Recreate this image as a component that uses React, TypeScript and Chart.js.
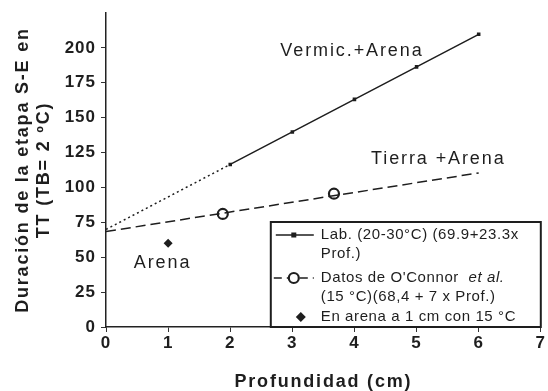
import React, { useEffect, useRef } from "react";
import { Chart, registerables } from "chart.js";

Chart.register(...registerables);

// ---------- data ----------
const xTickValues = [0, 1, 2, 3, 4, 5, 6, 7];
const yTickValues = [0, 25, 50, 75, 100, 125, 150, 175, 200];
const xAxisMax = 7;
const yAxisMax = 225;

const labDepths = [2, 3, 4, 5, 6];
const labValues = [116.5, 139.8, 163.1, 186.4, 209.7];
const labExtrapDepths = [0, 2];
const labExtrapValues = [69.9, 116.5];

const oconnorDepths = [1.88, 3.67];
const oconnorValues = [81, 95.5];
const oconnorLineDepths = [0, 6];
const oconnorLineValues = [68.4, 110.4];

const arenaDepths = [1];
const arenaValues = [60];

const curveLabels = ["Vermic.+Arena", "Tierra +Arena", "Arena"];
const curveLabelDepths = [3.96, 5.35, 0.91];
const curveLabelValues = [198, 120.5, 46];

const legendLabels = [
  ["Lab. (20-30°C) (69.9+23.3x", "Prof.)"],
  ["Datos de O'Connor  et al.", "(15 °C)(68,4 + 7 x Prof.)"],
  ["En arena a 1 cm con 15 °C"],
];

const xTitle = "Profundidad (cm)";
const yTitle = ["Duración de la etapa S-E en", "TT (TB= 2 ºC)"];

// ---------- styles ----------
const FONT = "'Liberation Sans', Arial, Helvetica, sans-serif";
const INK = "#1e1e1e";

const toPts = (xs: number[], ys: number[]) => xs.map((x, i) => ({ x, y: ys[i] }));

const spacingPlugin = {
  id: "spacing",
  beforeLayout(chart: any) {
    chart.ctx.letterSpacing = "1px";
  },
  afterLayout(chart: any) {
    Object.values(chart.scales).forEach((s: any) => {
      if (s.__wrapped) return;
      const orig = s.drawTitle.bind(s);
      s.drawTitle = function () {
        const c = this.ctx;
        const prev = c.letterSpacing;
        c.letterSpacing = "1.8px";
        orig();
        c.letterSpacing = prev;
      };
      s.__wrapped = true;
    });
  },
  beforeDraw(chart: any) {
    const ctx = chart.ctx;
    ctx.save();
    ctx.fillStyle = "#ffffff";
    ctx.fillRect(0, 0, chart.width, chart.height);
    ctx.restore();
    ctx.letterSpacing = "1px";
  },
};

const annotationPlugin = {
  id: "annotations",
  afterDatasetsDraw(chart: any) {
    const ctx = chart.ctx;
    const xs = chart.scales.x;
    const ys = chart.scales.y;
    ctx.save();
    ctx.font = `18px ${FONT}`;
    ctx.letterSpacing = "1.9px";
    ctx.fillStyle = INK;
    ctx.textAlign = "center";
    ctx.textBaseline = "middle";
    curveLabels.forEach((t, i) => {
      ctx.fillText(t, xs.getPixelForValue(curveLabelDepths[i]), ys.getPixelForValue(curveLabelValues[i]));
    });
    ctx.restore();
  },
};

const legendPlugin = {
  id: "customLegend",
  afterDraw(chart: any) {
    const ctx = chart.ctx;
    const area = chart.chartArea;
    const right = area.right;
    const bottom = area.bottom;
    const left = right - 270;
    const top = bottom - 105;
    ctx.save();
    ctx.fillStyle = "#ffffff";
    ctx.fillRect(left, top, right - left, bottom - top);
    ctx.strokeStyle = INK;
    ctx.lineWidth = 2;
    ctx.strokeRect(left, top, right - left, bottom - top);

    const textX = left + 50;
    const lineH = 19;
    const rowY = [top + 13, top + 56, top + 95];
    ctx.font = `15px ${FONT}`;
    ctx.letterSpacing = "0.6px";
    ctx.fillStyle = INK;
    ctx.textBaseline = "middle";
    ctx.textAlign = "left";
    legendLabels.forEach((lines, r) => {
      lines.forEach((line, j) => {
        const y = rowY[r] + j * lineH;
        const idx = line.indexOf("et al.");
        if (idx >= 0) {
          const pre = line.slice(0, idx);
          ctx.font = `15px ${FONT}`;
          ctx.fillText(pre, textX, y);
          const w = ctx.measureText(pre).width;
          ctx.font = `italic 15px ${FONT}`;
          ctx.fillText(line.slice(idx), textX + w, y);
          ctx.font = `15px ${FONT}`;
        } else {
          ctx.fillText(line, textX, y);
        }
      });
    });

    // symbols
    const sx0 = left + 3;
    const sx1 = left + 43;
    const sc = left + 23;
    ctx.strokeStyle = INK;
    ctx.lineWidth = 1.5;
    // row 1: solid line + square
    ctx.beginPath();
    ctx.moveTo(sx0 + 2, rowY[0]);
    ctx.lineTo(sx1, rowY[0]);
    ctx.stroke();
    ctx.fillStyle = INK;
    ctx.fillRect(sc - 2.5, rowY[0] - 2.5, 5, 5);
    // row 2: dashed line + circle
    ctx.setLineDash([8, 5]);
    ctx.beginPath();
    ctx.moveTo(sx0, rowY[1]);
    ctx.lineTo(sx1, rowY[1]);
    ctx.stroke();
    ctx.setLineDash([]);
    ctx.beginPath();
    ctx.arc(sc, rowY[1], 5, 0, Math.PI * 2);
    ctx.fillStyle = "#ffffff";
    ctx.fill();
    ctx.lineWidth = 2.2;
    ctx.stroke();
    // row 3: diamond
    const dx = left + 30;
    ctx.fillStyle = INK;
    ctx.beginPath();
    ctx.moveTo(dx, rowY[2] - 5);
    ctx.lineTo(dx + 5, rowY[2]);
    ctx.lineTo(dx, rowY[2] + 5);
    ctx.lineTo(dx - 5, rowY[2]);
    ctx.closePath();
    ctx.fill();
    ctx.restore();
  },
};

export default function App() {
  const canvasRef = useRef<HTMLCanvasElement | null>(null);

  useEffect(() => {
    if (!canvasRef.current) return;
    const chart = new Chart(canvasRef.current, {
      type: "scatter",
      data: {
        datasets: [
          {
            label: "Lab. extrapolación",
            data: toPts(labExtrapDepths, labExtrapValues),
            showLine: true,
            borderColor: INK,
            borderWidth: 1.5,
            borderDash: [2, 3],
            pointRadius: 0,
          },
          {
            label: "Lab.",
            data: toPts(labDepths, labValues),
            showLine: true,
            borderColor: INK,
            borderWidth: 1.5,
            pointStyle: "rect",
            pointRadius: 2.5,
            pointBackgroundColor: INK,
            pointBorderColor: INK,
            pointBorderWidth: 0,
          },
          {
            label: "O'Connor línea",
            data: toPts(oconnorLineDepths, oconnorLineValues),
            showLine: true,
            borderColor: INK,
            borderWidth: 1.5,
            borderDash: [10, 5],
            pointRadius: 0,
          },
          {
            label: "O'Connor",
            data: toPts(oconnorDepths, oconnorValues),
            showLine: false,
            pointStyle: "circle",
            pointRadius: 5,
            pointBackgroundColor: "#ffffff",
            pointBorderColor: INK,
            pointBorderWidth: 2.2,
          },
          {
            label: "Arena",
            data: toPts(arenaDepths, arenaValues),
            showLine: false,
            pointStyle: "rectRot",
            pointRadius: 4.5,
            pointBackgroundColor: INK,
            pointBorderColor: INK,
            pointBorderWidth: 0,
          },
        ],
      },
      options: {
        animation: false,
        responsive: false,
        devicePixelRatio: 1,
        layout: { padding: { top: 13, right: 5, left: 0, bottom: 0 } },
        plugins: {
          legend: { display: false },
          tooltip: { enabled: false },
        },
        scales: {
          x: {
            type: "linear",
            min: 0,
            max: xAxisMax,
            afterBuildTicks: (s: any) => {
              s.ticks = xTickValues.map((v) => ({ value: v }));
            },
            afterFit: (s: any) => {
              s.height = 64;
              s.paddingLeft = 0;
              s.paddingRight = 0;
            },
            ticks: {
              color: INK,
              padding: 1,
              font: { family: FONT, size: 17, weight: "bold" },
            },
            grid: {
              display: true,
              drawOnChartArea: false,
              drawTicks: true,
              tickLength: 5,
              color: "#333",
              lineWidth: 1,
            },
            border: { display: true, color: "#222", width: 1.5 },
            title: {
              display: true,
              text: xTitle,
              color: INK,
              font: { family: FONT, size: 18, weight: "bold", lineHeight: 1 },
              padding: { top: 0, bottom: 0 },
            },
          },
          y: {
            type: "linear",
            min: 0,
            max: yAxisMax,
            afterBuildTicks: (s: any) => {
              s.ticks = yTickValues.map((v) => ({ value: v }));
            },
            afterFit: (s: any) => {
              s.width = 106;
              s.paddingTop = 0;
              s.paddingBottom = 0;
            },
            ticks: {
              color: INK,
              padding: 5,
              font: { family: FONT, size: 17, weight: "bold" },
            },
            grid: {
              display: true,
              drawOnChartArea: false,
              drawTicks: true,
              tickLength: 5,
              color: "#333",
              lineWidth: 1,
            },
            border: { display: true, color: "#222", width: 1.5 },
            title: {
              display: true,
              text: yTitle,
              color: INK,
              font: { family: FONT, size: 18, weight: "bold", lineHeight: 1.15 },
              padding: { top: 13, bottom: 0 },
            },
          },
        },
      } as any,
      plugins: [spacingPlugin, annotationPlugin, legendPlugin],
    });
    return () => chart.destroy();
  }, []);

  return (
    <div style={{ position: "absolute", left: 0, top: 0, width: 548, height: 391 }}>
      <canvas ref={canvasRef} width={548} height={391} style={{ display: "block" }} />
    </div>
  );
}
